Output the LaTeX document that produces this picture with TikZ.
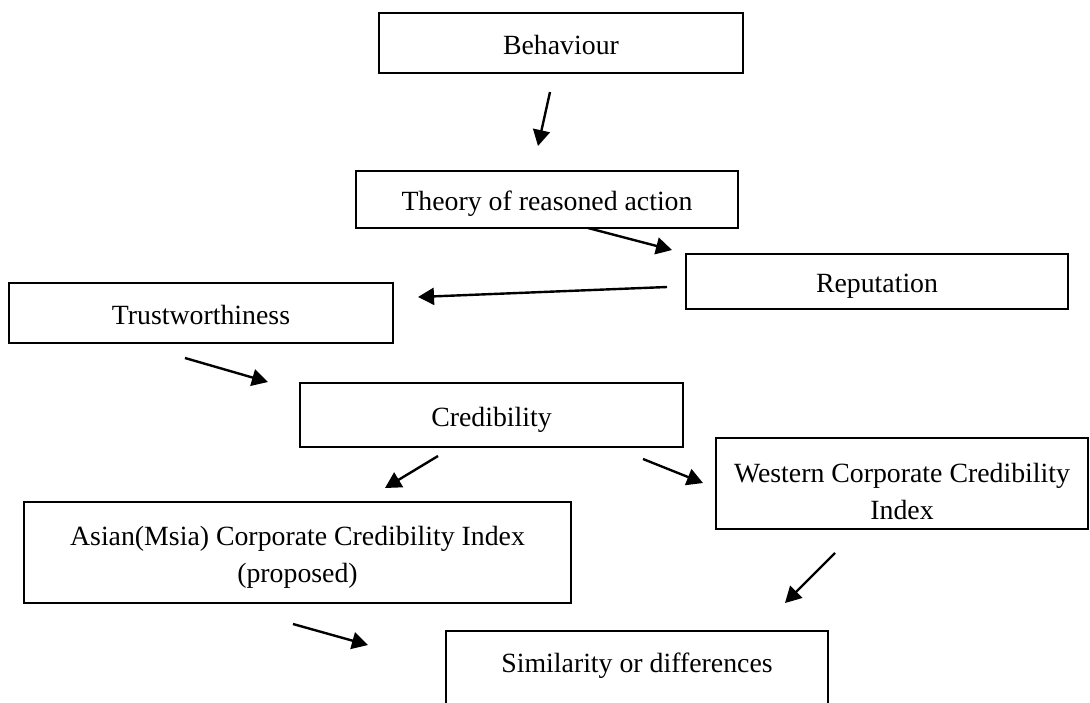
\documentclass[tikz,border=0pt]{standalone}
\usepackage{fontspec}
\setmainfont{Liberation Serif}
\usetikzlibrary{arrows.meta}

\begin{document}
\begin{tikzpicture}[
  x=0.5pt,y=-0.5pt,
  every node/.style={font=\fontsize{13.9}{18.5}\selectfont},
  box/.style={draw,line width=1pt,align=center,inner sep=0pt},
  onebox/.style={box,text height=11pt,text depth=0pt},
  arr/.style={-{Triangle[length=8pt,width=8.5pt]},line width=1.2pt}]
  \clip (0,0) rectangle (1090,702);
  \node (behav) [onebox,minimum width=182pt,minimum height=30pt] at (561,43) {Behaviour};
  \node (theory) [onebox,minimum width=191pt,minimum height=28.5pt] at (547,199.5) {Theory of reasoned action};
  \node (reput) [onebox,minimum width=191pt,minimum height=27.5pt] at (877,281.5) {Reputation};
  \node (trust) [onebox,minimum width=192pt,minimum height=30pt] at (201,313) {Trustworthiness};
  \node (cred) [onebox,minimum width=191.5pt,minimum height=32pt] at (491.5,415) {Credibility};
  \node (western) [box,minimum width=186pt,minimum height=45.5pt] at (902,483.5) {\rule{0pt}{17.6pt}Western Corporate Credibility\\Index};
  \node (asian) [box,minimum width=273.5pt,minimum height=50.5pt] at (297.5,552.5) {\rule{0pt}{14.6pt}Asian(Msia) Corporate Credibility Index\\(proposed)};
  \node (simil) [box,minimum width=191pt,minimum height=54.5pt,text depth=23pt] at (637,685.5) {Similarity or differences};
  % free-standing arrows between the boxes
  \coordinate (behav-out) at (550,92);   \coordinate (theory-in) at (538,146);
  \coordinate (theory-out) at (588,228); \coordinate (reput-in) at (672,250);
  \coordinate (reput-out) at (667,287);  \coordinate (trust-in) at (418,297);
  \coordinate (trust-out) at (185,358);  \coordinate (cred-in) at (268,382);
  \coordinate (cred-outl) at (438,456);  \coordinate (asian-in) at (385,488);
  \coordinate (cred-outr) at (643,459);  \coordinate (western-in) at (703,483);
  \coordinate (western-out) at (835,553); \coordinate (simil-inr) at (785,603);
  \coordinate (asian-out) at (293,624);  \coordinate (simil-inl) at (368,645);
  \draw[arr] (behav-out)--(theory-in);
  \draw[arr] (theory-out)--(reput-in);
  \draw[arr] (reput-out)--(trust-in);
  \draw[arr] (trust-out)--(cred-in);
  \draw[arr] (cred-outl)--(asian-in);
  \draw[arr] (cred-outr)--(western-in);
  \draw[arr] (western-out)--(simil-inr);
  \draw[arr] (asian-out)--(simil-inl);
\end{tikzpicture}
\end{document}
